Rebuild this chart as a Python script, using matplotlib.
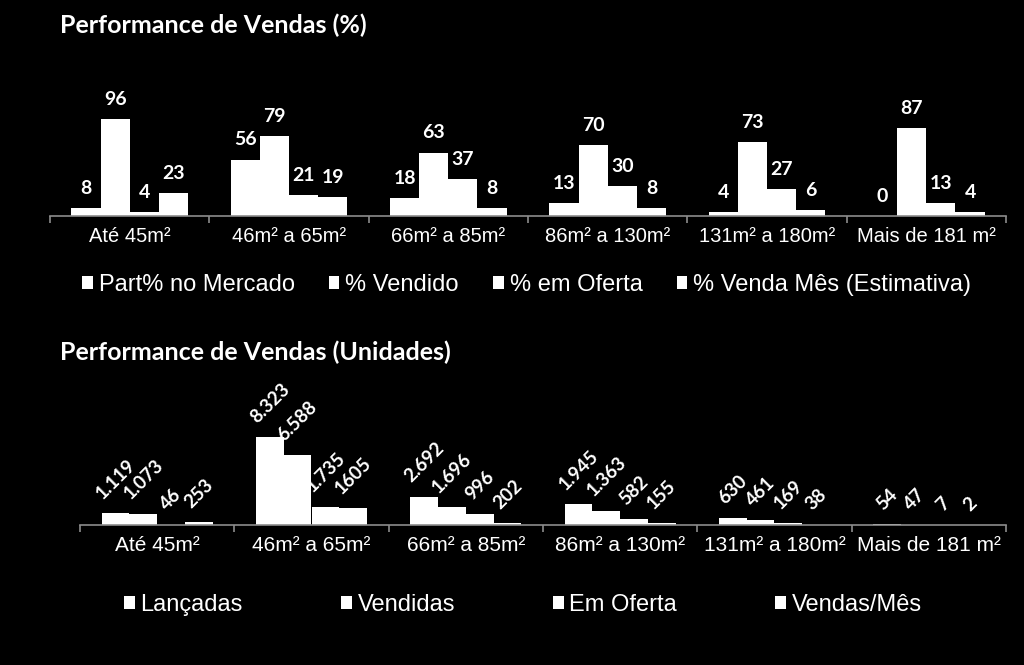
import matplotlib
matplotlib.use("Agg")
import matplotlib.pyplot as plt
from matplotlib.patches import Patch
import numpy as np

categories = ["Até 45m²", "46m² a 65m²", "66m² a 85m²", "86m² a 130m²", "131m² a 180m²", "Mais de 181 m²"]

pct_series = ["Part% no Mercado", "% Vendido", "% em Oferta", "% Venda Mês (Estimativa)"]
part_mercado = [8, 56, 18, 13, 4, 0]
pct_vendido = [96, 79, 63, 70, 73, 87]
pct_oferta = [4, 21, 37, 30, 27, 13]
pct_venda_mes = [23, 19, 8, 8, 6, 4]

unit_series = ["Lançadas", "Vendidas", "Em Oferta", "Vendas/Mês"]
lancadas = [1119, 8323, 2692, 1945, 630, 54]
vendidas = [1073, 6588, 1696, 1363, 461, 47]
em_oferta = [46, 1735, 996, 582, 169, 7]
vendas_mes = [253, 1605, 202, 155, 38, 2]
unit_labels = [
    ["1.119", "8.323", "2.692", "1.945", "630", "54"],
    ["1.073", "6.588", "1.696", "1.363", "461", "47"],
    ["46", "1.735", "996", "582", "169", "7"],
    ["253", "1605", "202", "155", "38", "2"],
]

BG = "black"
FG = "white"
AXC = "#8c8c8c"
TITLE_FONT = "Lato"
LABEL_FONT = "Lato"
TICK_FONT = "Liberation Sans"

fig = plt.figure(figsize=(10.24, 6.65), dpi=100, facecolor=BG)


def style_axis(ax, n):
    ax.set_facecolor(BG)
    for s in ["top", "right", "left"]:
        ax.spines[s].set_visible(False)
    ax.spines["bottom"].set_color(AXC)
    ax.spines["bottom"].set_linewidth(1.2)
    ax.set_yticks([])
    ax.set_xlim(-0.5, n - 0.5)
    ax.set_xticks(np.arange(n + 1) - 0.5)
    ax.set_xticklabels([])
    ax.tick_params(axis="x", which="major", length=5, color=AXC, width=1.2)
    ax.set_xticks(np.arange(n), minor=True)
    ax.tick_params(axis="x", which="minor", length=0, colors=FG, pad=8)


# ---------- top chart ----------
ax1 = fig.add_axes([50 / 1024, 1 - 216 / 665, 956 / 1024, 136 / 665])
style_axis(ax1, len(categories))
ax1.set_ylim(0, 135)
x = np.arange(len(categories))
w = 0.183
top_data = [part_mercado, pct_vendido, pct_oferta, pct_venda_mes]
for j, vals in enumerate(top_data):
    bars = ax1.bar(x + (j - 1.5) * w, vals, width=w, color=FG, edgecolor="none", label=pct_series[j])
    for b, v in zip(bars, vals):
        ax1.annotate(str(v), (b.get_x() + b.get_width() / 2, b.get_height()),
                     xytext=(0, 8), textcoords="offset points", ha="center", va="bottom",
                     color=FG, fontsize=14, fontweight="bold", family=LABEL_FONT)
ax1.set_xticklabels(categories, minor=True, fontsize=14.5, family=TICK_FONT)

fig.text(60 / 1024, 1 - 25 / 665, "Performance de Vendas (%)", color=FG, fontsize=18,
         fontweight="bold", family=TITLE_FONT, va="center", ha="left")

h1 = [Patch(facecolor=FG, edgecolor="none") for _ in pct_series]
leg1 = fig.legend(h1, pct_series, loc="center left", bbox_to_anchor=(82 / 1024, 1 - 285 / 665),
                  ncol=4, frameon=False, handlelength=0.45, handleheight=0.5, handletextpad=0.25,
                  columnspacing=1.45, borderpad=0, borderaxespad=0,
                  prop={"family": TICK_FONT, "size": 17})
for t in leg1.get_texts():
    t.set_color(FG)

# ---------- bottom chart ----------
ax2 = fig.add_axes([80 / 1024, 1 - 525 / 665, 926 / 1024, 145 / 665])
style_axis(ax2, len(categories))
ax2.set_ylim(0, 13700)
w2 = 0.18
bot_data = [lancadas, vendidas, em_oferta, vendas_mes]
for j, vals in enumerate(bot_data):
    bars = ax2.bar(x + (j - 1.5) * w2, vals, width=w2, color=FG, edgecolor="none", label=unit_series[j])
    for b, v, lab in zip(bars, vals, unit_labels[j]):
        ax2.annotate(lab, (b.get_x() + b.get_width() / 2, b.get_height()),
                     xytext=(0, 8), textcoords="offset points", ha="center", va="bottom",
                     rotation=45, color=FG, fontsize=13.5, fontweight="bold", family=LABEL_FONT)
ax2.set_xticklabels(categories, minor=True, fontsize=15, family=TICK_FONT)

fig.text(60 / 1024, 1 - 352 / 665, "Performance de Vendas (Unidades)", color=FG, fontsize=18,
         fontweight="bold", family=TITLE_FONT, va="center", ha="left")

h2 = [Patch(facecolor=FG, edgecolor="none") for _ in unit_series]
leg2 = fig.legend(h2, unit_series, loc="center left", bbox_to_anchor=(124 / 1024, 1 - 605 / 665),
                  ncol=4, frameon=False, handlelength=0.45, handleheight=0.5, handletextpad=0.25,
                  columnspacing=4.15, borderpad=0, borderaxespad=0,
                  prop={"family": TICK_FONT, "size": 17})
for t in leg2.get_texts():
    t.set_color(FG)

fig.savefig("out.png", dpi=100, facecolor=BG)
